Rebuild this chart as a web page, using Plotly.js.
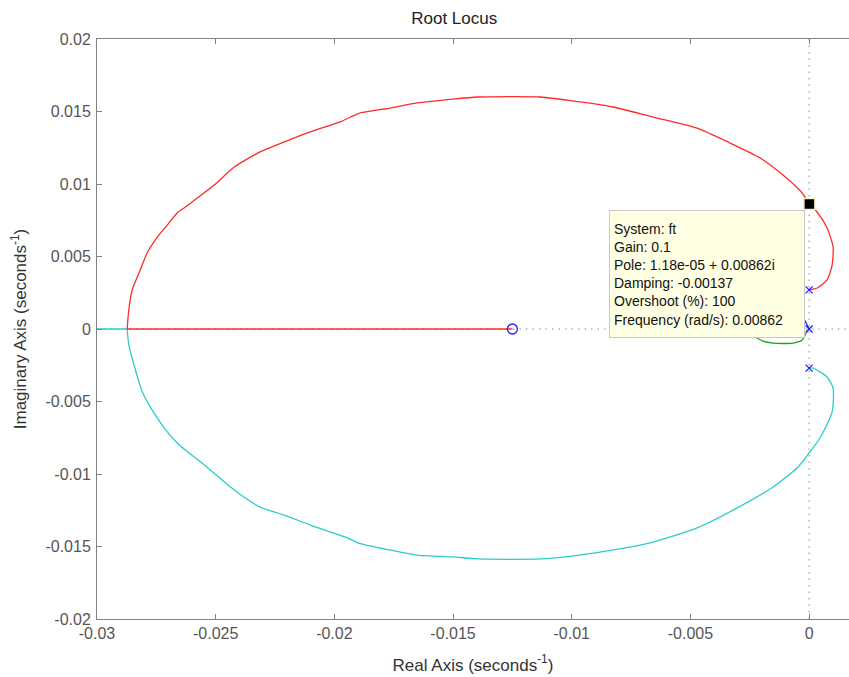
<!DOCTYPE html>
<html>
<head>
<meta charset="utf-8">
<script src="https://cdn.plot.ly/plotly-3.0.1.min.js"></script>
<style>
  html, body { margin: 0; padding: 0; background: #fff; }
  #plot { width: 849px; height: 677px; }
</style>
</head>
<body>
<div id="plot"></div>
<script>
// Root locus branches of system "ft" (real part, imaginary part)
const redBranchRe = [0, 0.000337, 0.000758, 0.000969, 0.00101, 0.000758, 0.000337, 0.0000118,
  -0.000295, -0.0011, -0.00206, -0.00333, -0.00472, -0.00657, -0.00826, -0.00965, -0.01133,
  -0.01394, -0.0150, -0.01651, -0.01765, -0.01891, -0.01976, -0.02102, -0.02211, -0.02313,
  -0.02422, -0.02506, -0.02578, -0.02628, -0.02662, -0.02704, -0.02746, -0.02789, -0.02818,
  -0.02852, -0.02866, -0.02873];
const redBranchIm = [0.0027, 0.00283, 0.00338, 0.00441, 0.00566, 0.00697, 0.00807, 0.00862,
  0.00938, 0.01062, 0.01179, 0.01283, 0.01386, 0.01462, 0.01531, 0.01566, 0.0160,
  0.0160, 0.01586, 0.01559, 0.01524, 0.0149, 0.01428, 0.01359, 0.0129, 0.01221,
  0.01117, 0.00993, 0.00903, 0.00841, 0.008, 0.00717, 0.00634, 0.00524, 0.00407,
  0.00269, 0.00131, 0];
// red branch continues along the real axis from the break-in point to the zero
const redAxisRe = [-0.02873, -0.0125];
const redAxisIm = [0, 0];

const cyanBranchRe = [0, 0.000168, 0.000758, 0.00101, 0.00097, 0.00046, 0, -0.00051, -0.00152,
  -0.00303, -0.00472, -0.00657, -0.00826, -0.00965, -0.01133, -0.01394, -0.0150, -0.01651,
  -0.01765, -0.01891, -0.01946, -0.02102, -0.02211, -0.02313, -0.02422, -0.02548, -0.02628,
  -0.02662, -0.02704, -0.0276, -0.02809, -0.02844, -0.02866, -0.02873];
const cyanBranchIm = [-0.0027, -0.00269, -0.00331, -0.00407, -0.00572, -0.00752, -0.00855, -0.00959,
  -0.0109, -0.01234, -0.01372, -0.01469, -0.01524, -0.01559, -0.01586, -0.01586, -0.01572,
  -0.01559, -0.01524, -0.0148, -0.01441, -0.01352, -0.01283, -0.01228, -0.0111, -0.00938,
  -0.00834, -0.00786, -0.0071, -0.00579, -0.00434, -0.00248, -0.0011, 0];
// cyan branch leaves along the negative real axis
const cyanAxisRe = [-0.02873, -0.031];
const cyanAxisIm = [0, 0];

const greenBranchRe = [0, -0.00017, -0.00029, -0.00067, -0.0011, -0.00152, -0.00194, -0.00227, -0.0026];
const greenBranchIm = [0, -0.00041, -0.00076, -0.00097, -0.001, -0.00097, -0.00083, -0.00055, -0.0002];

const blueBranchRe = [0, -0.00025, -0.0005, -0.0009];
const blueBranchIm = [0, 0.00083, 0.0018, 0.0028];

// Open-loop poles and zeros
const polesRe = [0, 0, 0];
const polesIm = [0.0027, 0, -0.0027];
const zerosRe = [-0.0125];
const zerosIm = [0];

// Selected data point
const selRe = [0.0000118];
const selIm = [0.00862];
const selInfo = ["System: ft", "Gain: 0.1", "Pole: 1.18e-05 + 0.00862i", "Damping: -0.00137",
  "Overshoot (%): 100", "Frequency (rad/s): 0.00862"];

// Axis ticks
const xTickVals = [-0.03, -0.025, -0.02, -0.015, -0.01, -0.005, 0];
const xTickText = ["-0.03", "-0.025", "-0.02", "-0.015", "-0.01", "-0.005", "0"];
const yTickVals = [-0.02, -0.015, -0.01, -0.005, 0, 0.005, 0.01, 0.015, 0.02];
const yTickText = ["-0.02", "-0.015", "-0.01", "-0.005", "0", "0.005", "0.01", "0.015", "0.02"];

const FONT = "Liberation Sans, Arial, Helvetica, sans-serif";
const branch = (x, y, color, smooth) => ({
  x, y, type: "scatter", mode: "lines", hoverinfo: "skip",
  line: smooth ? { color, width: 1.3, shape: "spline", smoothing: 0.6 } : { color, width: 1.3 }
});

const traces = [
  branch(greenBranchRe, greenBranchIm, "#22a022", true),
  branch(blueBranchRe, blueBranchIm, "#1f1fff", true),
  branch(cyanAxisRe, cyanAxisIm, "#2ccccc", false),
  branch(cyanBranchRe, cyanBranchIm, "#2ccccc", true),
  branch(redAxisRe, redAxisIm, "#ff2a2a", false),
  branch(redBranchRe, redBranchIm, "#ff2a2a", true),
  {
    x: polesRe, y: polesIm, type: "scatter", mode: "markers", hoverinfo: "skip",
    marker: { symbol: "x-thin-open", size: 7, color: "#2020ff", line: { color: "#2020ff", width: 1.3 } }
  },
  {
    x: zerosRe, y: zerosIm, type: "scatter", mode: "markers", hoverinfo: "skip",
    marker: { symbol: "circle-open", size: 10, color: "#2020ff", line: { color: "#2020ff", width: 1.3 } }
  },
  {
    x: selRe, y: selIm, type: "scatter", mode: "markers", hoverinfo: "skip",
    marker: { symbol: "square", size: 11, color: "#000", line: { color: "#f4f0c8", width: 1.5 } }
  }
];

const axisCommon = {
  showgrid: false, zeroline: false, showline: true, linecolor: "#808080", linewidth: 1,
  ticks: "inside", ticklen: 5, tickcolor: "#808080", tickwidth: 1,
  tickfont: { family: FONT, size: 16, color: "#555" }
};

const layout = {
  width: 849, height: 677,
  margin: { l: 97, r: 0, t: 39, b: 58, pad: 0 },
  paper_bgcolor: "#fff", plot_bgcolor: "#fff",
  showlegend: false,
  title: {
    text: "Root Locus", font: { family: FONT, size: 17, color: "#222" },
    xref: "container", x: 0.535, xanchor: "center",
    yref: "container", y: 1 - 18 / 677, yanchor: "middle"
  },
  xaxis: Object.assign({}, axisCommon, {
    range: [-0.03, 0.00168], mirror: "ticks",
    tickvals: xTickVals, ticktext: xTickText,
    title: { text: "Real Axis (seconds<sup>-1</sup>)", font: { family: FONT, size: 17, color: "#333" }, standoff: 17 }
  }),
  yaxis: Object.assign({}, axisCommon, {
    range: [-0.02, 0.02], mirror: false,
    tickvals: yTickVals, ticktext: yTickText, ticklabelstandoff: 2,
    title: { text: "Imaginary Axis (seconds<sup>-1</sup>)", font: { family: FONT, size: 17, color: "#333" }, standoff: 14 }
  }),
  shapes: [
    { type: "line", layer: "below", xref: "x", yref: "paper", x0: 0, x1: 0, y0: 0, y1: 1,
      line: { color: "#8c8c8c", width: 1, dash: "1.5px,5px" } },
    { type: "line", layer: "below", xref: "paper", yref: "y", x0: 0, x1: 1, y0: 0, y1: 0,
      line: { color: "#8c8c8c", width: 1, dash: "1.5px,5px" } }
  ],
  annotations: [
    {
      xref: "paper", yref: "paper",
      x: (609 - 97) / 752, xanchor: "left",
      y: (619 - 210) / 580, yanchor: "top",
      text: selInfo.join("<br>"), showarrow: false, align: "left", valign: "middle",
      width: 186, height: 118, borderpad: 4, borderwidth: 1,
      bordercolor: "#c8c8c0", bgcolor: "#ffffe3",
      font: { family: FONT, size: 14, color: "#111" }
    }
  ]
};

Plotly.newPlot("plot", traces, layout, { staticPlot: true, displayModeBar: false });
</script>
</body>
</html>
